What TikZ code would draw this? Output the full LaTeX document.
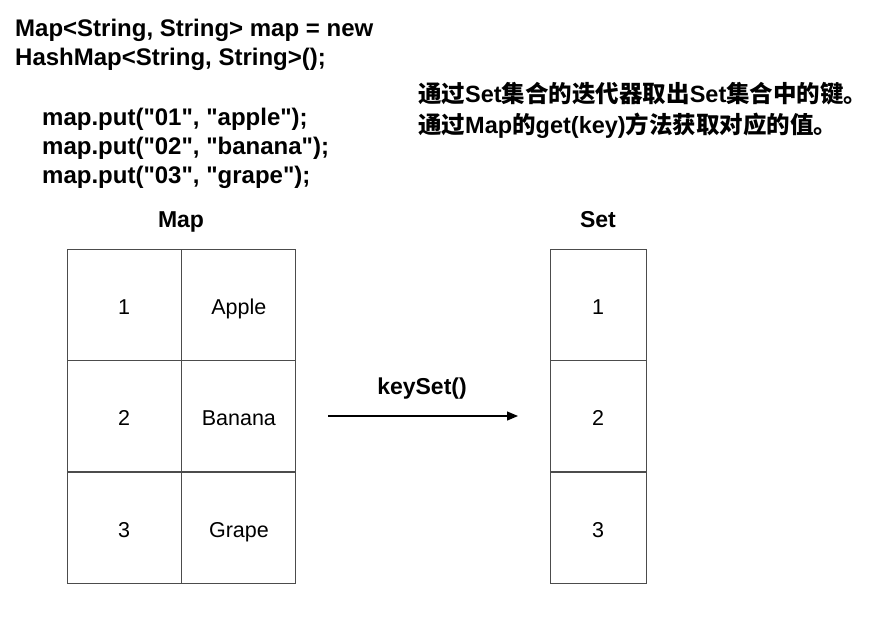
\documentclass[tikz,border=0pt]{standalone}
\usepackage{fontspec}
\setmainfont{Liberation Sans}
\newfontfamily\codefont{Liberation Sans}
\newfontfamily\cjk{Noto Sans CJK SC}
\usetikzlibrary{positioning,arrows.meta}

\begin{document}
\begin{tikzpicture}[x=1pt, y=-1pt, node distance=0pt,
  cell/.style={draw=black!70,line width=0.9pt,minimum height=111pt,inner sep=0pt,
    text height=19pt,text depth=0pt,font=\fontsize{21.5}{24}\selectfont},
  kc/.style={cell,minimum width=114pt}, sc/.style={cell,minimum width=96pt},
  code/.style={anchor=base west,inner sep=0pt,font=\codefont\fontsize{24}{29}\selectfont\bfseries},
  note/.style={anchor=base west,inner sep=0pt,font=\fontsize{23.5}{31}\selectfont\bfseries},
  hd/.style={anchor=base,inner sep=0pt,font=\fontsize{23}{26}\selectfont\bfseries},
  arr/.style={-{Triangle[length=11pt,width=9pt]},line width=1.2pt}]
\useasboundingbox (0,0) rectangle (883,622);
% code
\node[code] (decl1) at (15,36) {Map<String, String> map = new};
\node[code] (decl2) at (15,65) {HashMap<String, String>();};
\node[code] (put1) at (42,125) {map.put("01", "apple");};
\node[code] (put2) at (42,154) {map.put("02", "banana");};
\node[code] (put3) at (42,183) {map.put("03", "grape");};
% note
\node[note] (note1) at (418,102) {{\cjk 通过}Set{\cjk 集合的迭代器取出}Set{\cjk 集合中的键。}};
\node[note] (note2) at (418,133) {{\cjk 通过}Map{\cjk 的}get(key){\cjk 方法获取对应的值。}};
% map table
\node[kc] (k1) at (124,304.5) {1};
\node[kc, right=of k1] (v1) {Apple};
\node[kc, below=of k1] (k2) {2};
\node[kc, right=of k2] (v2) {Banana};
\node[kc, below=of k2] (k3) {3};
\node[kc, right=of k3] (v3) {Grape};
\node[hd] (maphd) at (181,227) {Map};
% set table
\node[sc] (s1) at (598,304.5) {1};
\node[sc, below=of s1] (s2) {2};
\node[sc, below=of s2] (s3) {3};
\node[hd] (sethd) at (598,227) {Set};
% arrow
\coordinate (from) at (328,416);
\coordinate (to) at (518,416);
\draw[arr] (from) -- (to);
\node[hd] (ks) at (422,394) {keySet()};
\end{tikzpicture}
\end{document}
